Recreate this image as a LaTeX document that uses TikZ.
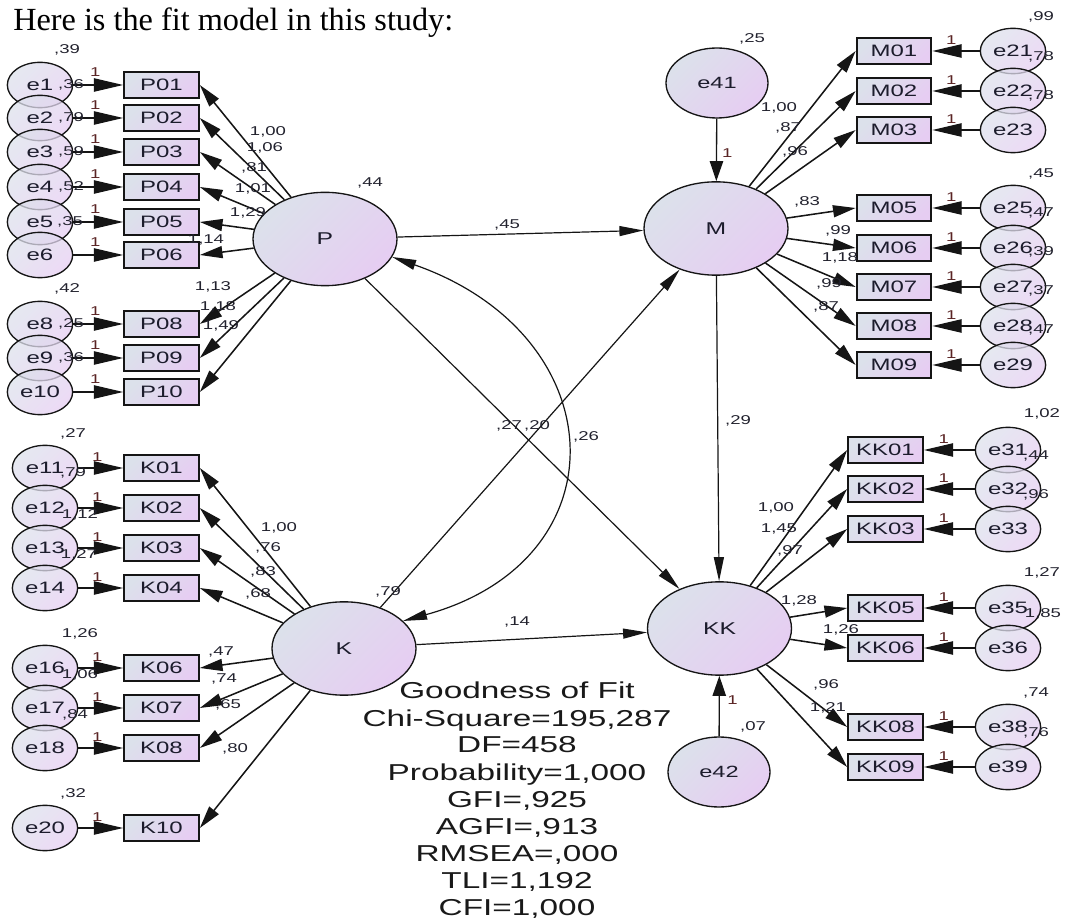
\documentclass[tikz,border=0pt]{standalone}
\usepackage{fontspec}
\setmainfont{Liberation Serif}
\newfontfamily\amos[FakeStretch=1.45]{Liberation Sans}
\usetikzlibrary{shapes.geometric,arrows.meta}
\definecolor{gA}{HTML}{DCE1EB}
\definecolor{gB}{HTML}{E6CDF2}
\definecolor{txt}{HTML}{1C1C2C}
\definecolor{onec}{HTML}{5A2424}
\definecolor{numc}{HTML}{22222E}
\definecolor{ln}{HTML}{151515}
\tikzset{
  gfill/.style={top color=gA, bottom color=gB, shading angle=45},
  lat/.style={ellipse, draw=ln, line width=1pt, gfill, minimum width=108pt, minimum height=70pt, inner sep=0pt, text=txt, font=\amos\fontsize{12.8}{14}\selectfont},
  dist/.style={ellipse, draw=ln, line width=1pt, gfill, minimum width=76.5pt, minimum height=52.5pt, inner sep=0pt, text=txt, font=\amos\fontsize{12.2}{13}\selectfont},
  err/.style={ellipse, draw=ln, line width=1pt, gfill, fill opacity=0.75, text opacity=1, minimum width=49pt, minimum height=34pt, inner sep=0pt, text=txt, font=\amos\fontsize{12.4}{13}\selectfont},
  obs/.style={rectangle, draw=ln, line width=1.5pt, gfill, minimum width=56pt, minimum height=19.5pt, inner sep=0pt, text=txt, font=\amos\fontsize{12.4}{14}\selectfont},
  num/.style={inner sep=0pt, text=numc, font=\amos\fontsize{9.6}{11}\selectfont},
  one/.style={inner sep=0pt, text=onec, font=\amos\fontsize{9.6}{11}\selectfont},
  gof/.style={inner sep=0pt, text=black!90, font=\amos\fontsize{17.25}{20}\selectfont},
  ttl/.style={inner sep=0pt, text=black, font=\fontsize{24.2}{30}\selectfont},
  errarr/.style={draw=ln, line width=1pt, -{Triangle[length=22pt,width=10pt]}},
  ldarr/.style={draw=ln, line width=1.15pt, -{Triangle[length=17pt,width=9pt]}},
  strarr/.style={draw=ln, line width=0.9pt, -{Triangle[length=18pt,width=7.5pt]}},
  disarr/.style={draw=ln, line width=1pt, -{Triangle[length=15pt,width=10pt]}},
  covarr/.style={draw=ln, line width=0.9pt, {Triangle[length=18pt,width=7.5pt]}-{Triangle[length=18pt,width=7.5pt]}},
}
\begin{document}
\begin{tikzpicture}[x=0.75pt,y=-0.75pt]
\useasboundingbox (0,0) rectangle (1065,923);
\node[ttl, anchor=base west] (title) at (13,31) {Here is the fit model in this study:};

% latent variables
\node[lat] (P) at (325,239) {P};
\node[lat] (M) at (716,228.5) {M};
\node[lat] (K) at (344,648.5) {K};
\node[lat] (KK) at (719.5,628.5) {KK};
\node[dist] (e41) at (717,83) {e41};
\node[dist] (e42) at (719,772) {e42};

% P indicators
\foreach \n/\e/\y in {01/1/85,02/2/118,03/3/152,04/4/187,05/5/222,06/6/255,08/8/324,09/9/358,10/10/392}{
  \node[obs] (P\n) at (161.5,\y) {P\n};
  \node[err] (e\e) at (40,\y) {e\e};
  \draw[errarr] (e\e) -- node[one, pos=.44, yshift=9.5pt] (o\e) {1} (P\n);
  \draw[ldarr] (P) -- (P\n.east);
}
% K indicators
\foreach \n/\e/\y in {01/11/468,02/12/508,03/13/548,04/14/588,06/16/668,07/17/708,08/18/748,10/20/828}{
  \node[obs] (K\n) at (161.5,\y) {K\n};
  \node[err] (e\e) at (45,\y) {e\e};
  \draw[errarr] (e\e) -- node[one, pos=.42, yshift=8.5pt] (o\e) {1} (K\n);
  \draw[ldarr] (K) -- (K\n.east);
}
% M indicators
\foreach \n/\e/\y in {01/21/51,02/22/91,03/23/130,05/25/208,06/26/248,07/27/287,08/28/326,09/29/365}{
  \node[obs] (M\n) at (894,\y) {M\n};
  \node[err] (e\e) at (1013,\y) {e\e};
  \draw[errarr] (e\e) -- node[one, pos=.6, yshift=8.5pt] (o\e) {1} (M\n);
  \draw[ldarr] (M) -- (M\n.west);
}
% KK indicators
\foreach \n/\e/\y in {01/31/450,02/32/489,03/33/529,05/35/608,06/36/648,08/38/727,09/39/767}{
  \node[obs] (KK\n) at (885.5,\y) {KK\n};
  \node[err] (e\e) at (1008,\y) {e\e};
  \draw[errarr] (e\e) -- node[one, pos=.61, yshift=8.5pt] (o\e) {1} (KK\n);
  \draw[ldarr] (KK) -- (KK\n.west);
}

% structural paths
\draw[strarr] (P) -- (M);
\draw[strarr] (P) -- (KK);
\draw[strarr] (K) -- (M);
\draw[strarr] (K) -- (KK);
\draw[strarr] (M) -- (KK);
\draw[disarr] (e41) -- node[one, pos=.55, xshift=8pt] (o41) {1} (M);
\draw[disarr] (e42) -- node[one, pos=.6, xshift=10pt] (o42) {1} (KK);
\draw[covarr] (P.-15) .. controls (615,335) and (625,560) .. (K.25);

% numeric labels
\foreach \x/\y/\t [count=\i] in {
  268/132/{1,00}, 265/148/{1,06}, 254/168/{,81}, 253/189/{1,01}, 248/213/{1,29}, 206/240/{1,14},
  213/287/{1,13}, 218/307/{1,18}, 221/326/{1,49}, 370/183/{,44},
  279/528/{1,00}, 268/548/{,76}, 263/572/{,83}, 258/594/{,68}, 388/592/{,79},
  221/652/{,47}, 224/679/{,74}, 228/705/{,65}, 235/749/{,80},
  507/225/{,45}, 509/426/{,27}, 537/426/{,20}, 586/437/{,26}, 517/622/{,14}, 738/421/{,29},
  752/39/{,25}, 753/727/{,07},
  779/108/{1,00}, 788/128/{,87}, 795/152/{,96}, 807/202/{,83}, 838/231/{,99}, 840/258/{1,18}, 829/284/{,99}, 826/307/{,87},
  776/508/{1,00}, 779/529/{1,45}, 790/551/{,97}, 799/601/{1,28}, 841/630/{1,26}, 826/685/{,96}, 828/708/{1,21},
  67/50/{,39}, 71/85/{,36}, 71/118/{,79}, 71/152/{,59}, 71/187/{,52}, 70/222/{,35},
  67/289/{,42}, 71/324/{,25}, 71/358/{,36},
  73/434/{,27}, 73/473/{,79}, 80/515/{1,12}, 79/555/{1,27}, 80/634/{1,26}, 80/675/{1,06}, 75/715/{,84}, 73/794/{,32},
  1041/17/{,99}, 1041/57/{,78}, 1041/96/{,78}, 1041/174/{,45}, 1041/213/{,47}, 1041/252/{,39}, 1041/291/{,37}, 1041/330/{,47},
  1042/414/{1,02}, 1036/456/{,44}, 1036/495/{,96}, 1042/573/{1,27}, 1043/614/{1,85}, 1036/693/{,74}, 1036/733/{,76}}
  \node[num] (L\i) at (\x,\y) {\t};

% goodness of fit
\foreach \t [count=\i] in {Goodness of Fit, {Chi-Square=195,287}, DF=458, {Probability=1,000}, {GFI=,925}, {AGFI=,913}, {RMSEA=,000}, {TLI=1,192}, {CFI=1,000}}
  \node[gof, anchor=base] (g\i) at (517,{699+27*(\i-1)}) {\t};
\end{tikzpicture}
\end{document}
